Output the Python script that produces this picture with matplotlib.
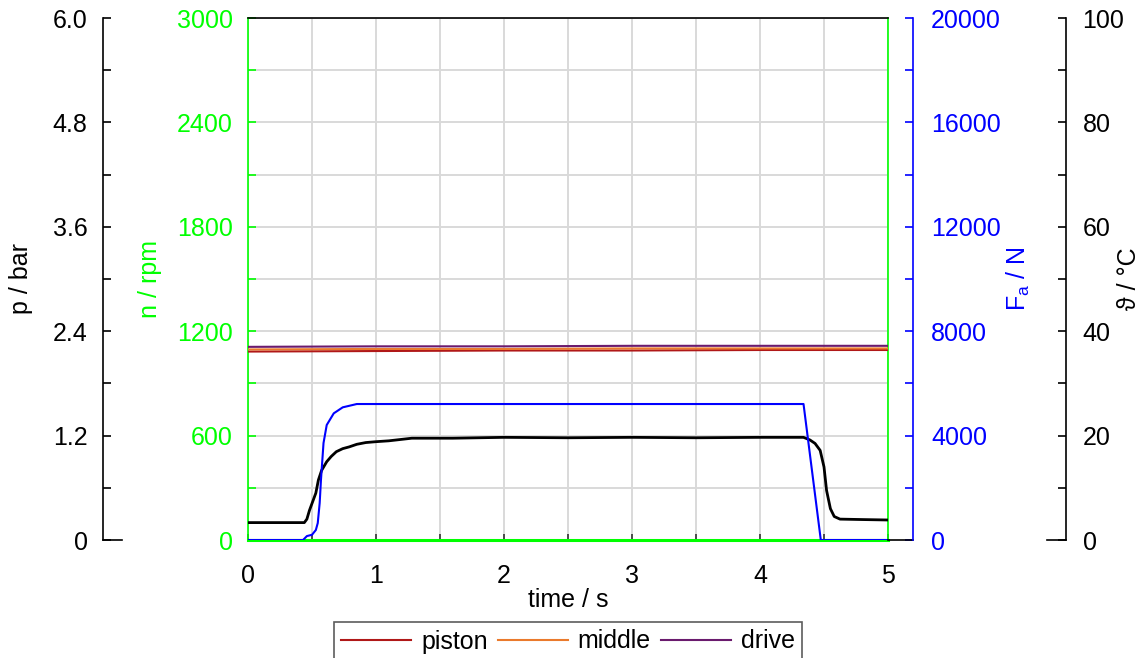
import numpy as np
import matplotlib.pyplot as plt
from matplotlib.ticker import MultipleLocator, FixedLocator, FixedFormatter

plt.rcParams['font.family'] = ['Liberation Sans', 'DejaVu Sans']
plt.rcParams['font.size'] = 18

GREEN = '#00ff00'
BLUE = '#0000ff'

# pressure p (black)
t_p = [0, 0.44, 0.46, 0.48, 0.53, 0.55, 0.575, 0.615, 0.65, 0.69, 0.74, 0.79, 0.85,
       0.92, 1.0, 1.1, 1.28, 1.6, 2.0, 2.5, 3.0, 3.5, 4.0, 4.34, 4.39, 4.43, 4.47,
       4.50, 4.52, 4.55, 4.58, 4.625, 4.8, 5.0]
p_val = [0.20, 0.20, 0.24, 0.34, 0.54, 0.69, 0.80, 0.90, 0.96, 1.015, 1.05, 1.07, 1.10,
         1.12, 1.13, 1.14, 1.17, 1.17, 1.18, 1.175, 1.18, 1.175, 1.18, 1.18, 1.15, 1.11,
         1.03, 0.84, 0.57, 0.36, 0.27, 0.24, 0.235, 0.23]

# axial force F_a (blue)
t_F = [0, 0.43, 0.46, 0.50, 0.53, 0.545, 0.56, 0.57, 0.59, 0.615, 0.67, 0.74, 0.85,
       1.0, 4.34, 4.475, 5.0]
F_val = [0, 0, 150, 200, 383, 650, 1418, 2300, 3716, 4406, 4853, 5083, 5210,
         5210, 5210, 0, 0]

# speed n (green)
t_n = [0, 5]
n_val = [0, 0]

# temperatures
t_T = [0, 1, 2, 3, 4, 5]
T_piston = [36.1, 36.2, 36.3, 36.3, 36.4, 36.4]
T_middle = [36.5, 36.6, 36.6, 36.7, 36.7, 36.7]
T_drive = [37.0, 37.1, 37.1, 37.2, 37.2, 37.2]

p_ticks = [0, 1.2, 2.4, 3.6, 4.8, 6.0]
p_labels = ['0', '1.2', '2.4', '3.6', '4.8', '6.0']

fig = plt.figure(figsize=(11.46, 6.58), dpi=100)
ax = fig.add_axes([248/1146, 1-540/658, 640/1146, 522/658])

# main axes: n
ax.plot(t_n, n_val, color=GREEN, lw=2.2, zorder=3, clip_on=False)
ax.set_xlim(0, 5)
ax.set_ylim(0, 3000)
ax.xaxis.set_major_locator(MultipleLocator(1))
ax.xaxis.set_minor_locator(MultipleLocator(0.5))
ax.yaxis.set_major_locator(MultipleLocator(600))
ax.yaxis.set_minor_locator(MultipleLocator(300))
ax.grid(which='both', color='#d9d9d9', lw=1.4)
ax.set_axisbelow(True)
ax.tick_params(axis='x', which='both', direction='in', length=4, width=1.2,
               color='#333333', pad=17, labelsize=18)
ax.tick_params(axis='y', which='both', direction='in', length=6, width=1.2,
               colors=GREEN, left=True, right=True, pad=11, labelsize=18)
for s in ['left', 'right']:
    ax.spines[s].set_color(GREEN)
for s in ax.spines.values():
    s.set_linewidth(1.2)
ax.set_xlabel('time / s', labelpad=0)
ax.set_ylabel('n / rpm', color=GREEN)
ax.yaxis.set_label_coords(-0.134, 0.5)

def extra_axis(side, pos, color):
    a = ax.twinx()
    for s in a.spines.values():
        s.set_visible(False)
    a.spines[side].set_visible(True)
    a.spines[side].set_position(('axes', pos))
    a.spines[side].set_color(color)
    a.spines[side].set_linewidth(1.2)
    a.yaxis.set_ticks_position(side)
    a.yaxis.set_label_position(side)
    a.tick_params(axis='y', which='both', direction='in', length=6, width=1.2,
                  colors=color, labelsize=18)
    return a

# pressure axis
ax_p = extra_axis('left', -0.2266, 'black')
ax_p.plot(t_p, p_val, color='black', lw=2)
ax_p.set_ylim(0, 6)
ax_p.yaxis.set_major_locator(FixedLocator(p_ticks))
ax_p.yaxis.set_major_formatter(FixedFormatter(p_labels))
ax_p.yaxis.set_minor_locator(MultipleLocator(0.6))
ax_p.tick_params(axis='y', pad=11)
ax_p.set_ylabel('p / bar')
ax_p.yaxis.set_label_coords(-0.336, 0.5)
ax_p.plot([-0.2266, -0.197], [0, 0], transform=ax_p.transAxes, color='black',
          lw=1.2, clip_on=False)

# force axis
ax_F = extra_axis('right', 1.039, BLUE)
ax_F.plot(t_F, F_val, color=BLUE, lw=1.5)
ax_F.set_ylim(0, 20000)
ax_F.yaxis.set_major_locator(MultipleLocator(4000))
ax_F.yaxis.set_minor_locator(MultipleLocator(2000))
ax_F.tick_params(axis='y', pad=13)
ax_F.set_ylabel(r'F$_\mathregular{a}$ / N', color=BLUE)
ax_F.yaxis.set_label_coords(1.183, 0.5)
ax_F.plot([1.0, 1.039], [0, 0], transform=ax_F.transAxes, color='black',
          lw=1.2, clip_on=False)

# temperature axis
ax_T = extra_axis('right', 1.278, 'black')
ax_T.plot(t_T, T_piston, color='#b01818', lw=1.5, label='piston')
ax_T.plot(t_T, T_middle, color='#ea7a2c', lw=1.5, label='middle')
ax_T.plot(t_T, T_drive, color='#6a1a6e', lw=1.5, label='drive')
ax_T.set_ylim(0, 100)
ax_T.yaxis.set_major_locator(MultipleLocator(20))
ax_T.yaxis.set_minor_locator(MultipleLocator(10))
ax_T.tick_params(axis='y', pad=12)
ax_T.set_ylabel('ϑ / °C')
ax_T.yaxis.set_label_coords(1.358, 0.5)
ax_T.plot([1.248, 1.278], [0, 0], transform=ax_T.transAxes, color='black',
          lw=1.2, clip_on=False)

leg = fig.legend(loc='upper center', bbox_to_anchor=(568/1146, 1-622/658),
                 ncol=3, fontsize=18, frameon=True, fancybox=False,
                 edgecolor='#333333', borderaxespad=0, handlelength=2.8,
                 handletextpad=0.4, columnspacing=0.4, borderpad=0.3)
leg.get_frame().set_linewidth(1.2)

fig.savefig('out.png', dpi=100)
